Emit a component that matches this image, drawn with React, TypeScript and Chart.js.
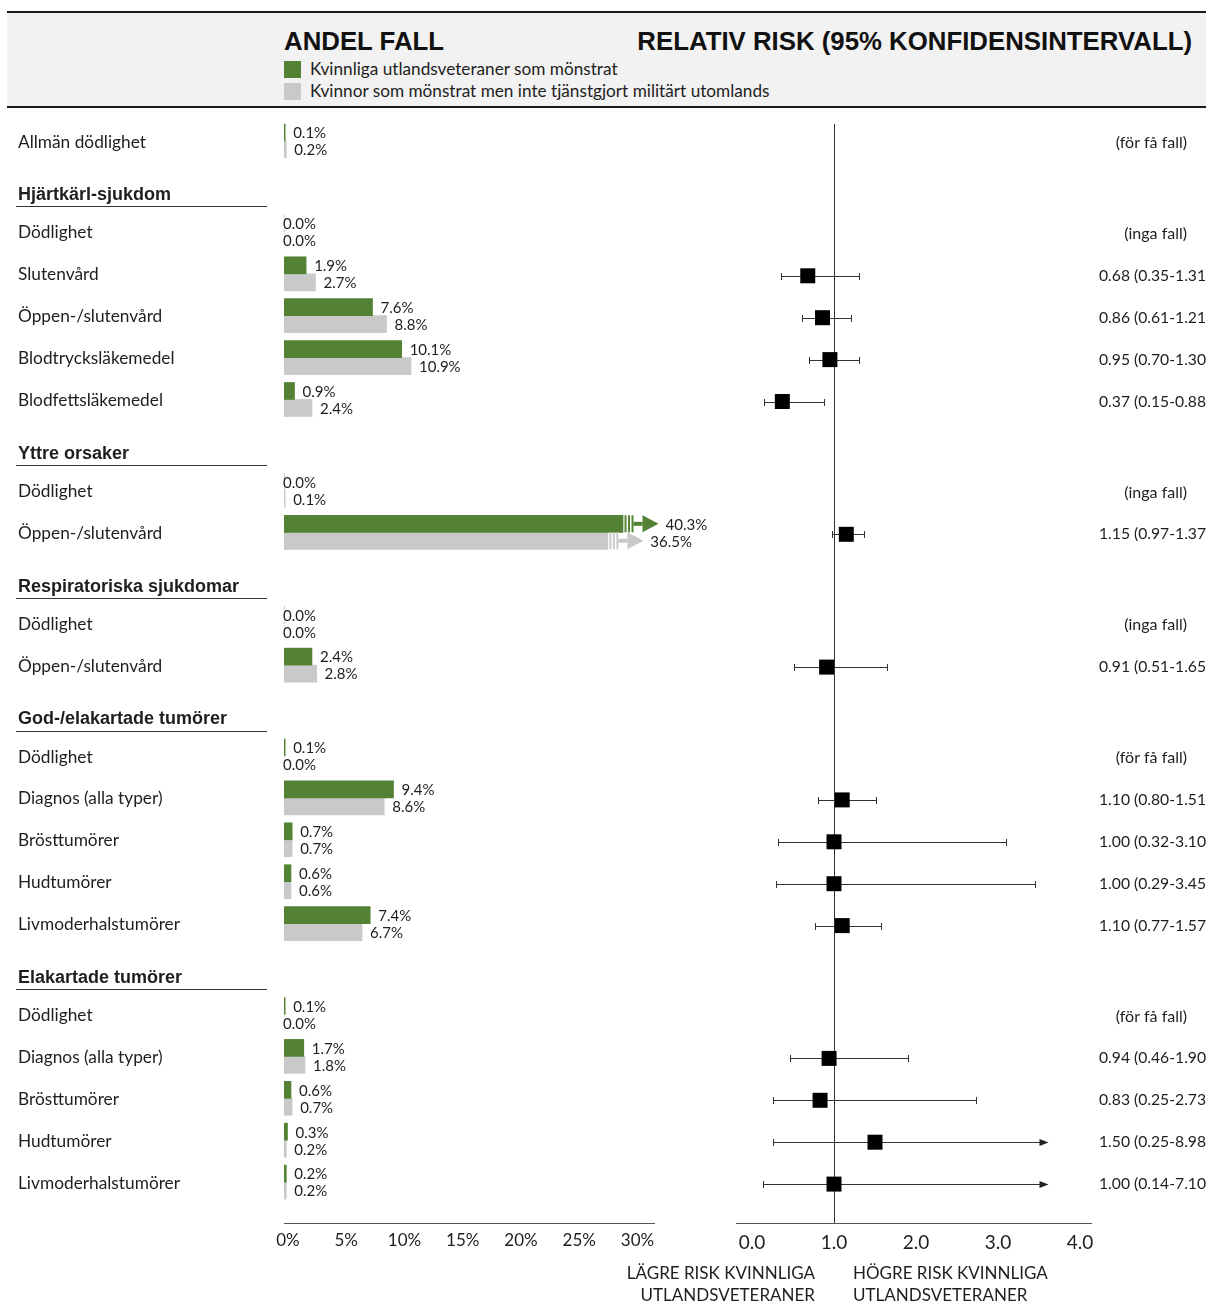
import React, { useEffect, useRef } from "react";
import { Chart, registerables } from "chart.js";

Chart.register(...registerables);

// ---------------- data ----------------
const leftTitle = "ANDEL FALL";
const rightTitle = "RELATIV RISK (95% KONFIDENSINTERVALL)";
const legendLabels = [
  "Kvinnliga utlandsveteraner som mönstrat",
  "Kvinnor som mönstrat men inte tjänstgjort militärt utomlands",
];
const sectionTitles = [
  "",
  "Hjärtkärl-sjukdom",
  "Yttre orsaker",
  "Respiratoriska sjukdomar",
  "God-/elakartade tumörer",
  "Elakartade tumörer",
];
const rowLabels = [
  "Allmän dödlighet",
  "Dödlighet",
  "Slutenvård",
  "Öppen-/slutenvård",
  "Blodtrycksläkemedel",
  "Blodfettsläkemedel",
  "Dödlighet",
  "Öppen-/slutenvård",
  "Dödlighet",
  "Öppen-/slutenvård",
  "Dödlighet",
  "Diagnos (alla typer)",
  "Brösttumörer",
  "Hudtumörer",
  "Livmoderhalstumörer",
  "Dödlighet",
  "Diagnos (alla typer)",
  "Brösttumörer",
  "Hudtumörer",
  "Livmoderhalstumörer",
];
const rowSection = [0, 1, 1, 1, 1, 1, 2, 2, 3, 3, 4, 4, 4, 4, 4, 5, 5, 5, 5, 5];
const veteranPct = [0.1, 0.0, 1.9, 7.6, 10.1, 0.9, 0.0, 40.3, 0.0, 2.4, 0.1, 9.4, 0.7, 0.6, 7.4, 0.1, 1.7, 0.6, 0.3, 0.2];
const controlPct = [0.2, 0.0, 2.7, 8.8, 10.9, 2.4, 0.1, 36.5, 0.0, 2.8, 0.0, 8.6, 0.7, 0.6, 6.7, 0.0, 1.8, 0.7, 0.2, 0.2];
const rrEstimate = [null, null, 0.68, 0.86, 0.95, 0.37, null, 1.15, null, 0.91, null, 1.1, 1.0, 1.0, 1.1, null, 0.94, 0.83, 1.5, 1.0];
const rrLower = [null, null, 0.35, 0.61, 0.7, 0.15, null, 0.97, null, 0.51, null, 0.8, 0.32, 0.29, 0.77, null, 0.46, 0.25, 0.25, 0.14];
const rrUpper = [null, null, 1.31, 1.21, 1.3, 0.88, null, 1.37, null, 1.65, null, 1.51, 3.1, 3.45, 1.57, null, 1.9, 2.73, 8.98, 7.1];
const rrNote = [
  "(för få fall)", "(inga fall)", null, null, null, null, "(inga fall)", null, "(inga fall)", null,
  "(för få fall)", null, null, null, null, "(för få fall)", null, null, null, null,
];
const pctTickStep = 5;
const rrTickStep = 1;
const lowerRiskText = ["LÄGRE RISK KVINNLIGA", "UTLANDSVETERANER"];
const higherRiskText = ["HÖGRE RISK KVINNLIGA", "UTLANDSVETERANER"];

// ---------------- layout / style ----------------
const W = 1206;
const H = 1311;
const GREEN = "#548235";
const GRAY = "#c9c9c9";
const TEXT = "#1e1e1e";
const BODY_FONT = "Lato, 'Noto Sans', sans-serif";
const BOLD_FONT = "'Liberation Sans', Arial, sans-serif";

const AREA_TOP = 115;
const AREA_BOTTOM = 1223;
const ROW_FIRST = 141;
const ROW_STEP = 41.9;
const SECTION_EXTRA = 49;
const HEADER_ABOVE = 36.5;
const rowPos = rowLabels.map((_, i) => i + (rowSection[i] * SECTION_EXTRA) / ROW_STEP);
const Y_MIN = -(ROW_FIRST - AREA_TOP) / ROW_STEP;
const Y_MAX = Y_MIN + (AREA_BOTTOM - AREA_TOP) / ROW_STEP;

// bar panel (canvas A, page x 0..760)
const A_W = 760;
const A_LEFT = 284;
const A_RIGHT = 654;
const PCT_PX = 11.65;
const PCT_MAX = (A_RIGHT - A_LEFT) / PCT_PX;
const BREAK_SHOW = [29.1, 27.8];

// forest panel (canvas B, page x 600..1206)
const B_X = 600;
const B_W = W - B_X;
const B_LEFT = 736;
const B_RIGHT = 1091;
const RR_ZERO = 752;
const RR_PX = 82;
const RR_ARROW_AT = 3.61;

const makeYScale = () => ({
  type: "linear" as const,
  reverse: true,
  offset: false,
  min: Y_MIN,
  max: Y_MAX,
  display: false,
});

const barsDecor = {
  id: "barsDecor",
  afterDatasetsDraw(chart: any) {
    const ctx = chart.ctx;
    const y = chart.scales.y;
    ctx.save();
    ctx.textBaseline = "middle";
    ctx.textAlign = "left";
    ctx.fillStyle = TEXT;
    ctx.font = `17.3px ${BODY_FONT}`;
    rowLabels.forEach((t, i) => ctx.fillText(t, 18, y.getPixelForValue(rowPos[i]) + 1));
    sectionTitles.forEach((t, s) => {
      if (!t) return;
      const first = rowSection.indexOf(s);
      const py = y.getPixelForValue(rowPos[first] - HEADER_ABOVE / ROW_STEP);
      ctx.font = `bold 18px ${BOLD_FONT}`;
      ctx.fillStyle = TEXT;
      ctx.fillText(t, 18, py);
      ctx.strokeStyle = "#333";
      ctx.lineWidth = 1;
      ctx.beginPath();
      ctx.moveTo(16, Math.round(py + 11) + 0.5);
      ctx.lineTo(267, Math.round(py + 11) + 0.5);
      ctx.stroke();
    });
    const series = [veteranPct, controlPct];
    const colors = [GREEN, GRAY];
    series.forEach((vals, d) => {
      const meta = chart.getDatasetMeta(d);
      vals.forEach((v, i) => {
        const el = meta.data[i];
        if (!el) return;
        const p = el.getProps(["x", "y", "base", "height"], true);
        let labelX = v === 0 ? p.base - 1 : p.x + 8;
        if (v > BREAK_SHOW[d]) {
          const top = p.y - p.height / 2;
          const h = p.height;
          ctx.fillStyle = colors[d];
          let x = p.x + 1.5;
          ctx.fillRect(x, top, 2, h);
          x += 3.5;
          ctx.fillRect(x, top, 2, h);
          x += 3.5;
          ctx.fillRect(x, top, 2, h);
          x += 2;
          ctx.fillRect(x, p.y - 2, 9, 4);
          x += 9;
          ctx.beginPath();
          ctx.moveTo(x, top);
          ctx.lineTo(x + 16, p.y);
          ctx.lineTo(x, top + h);
          ctx.closePath();
          ctx.fill();
          labelX = x + 16 + 7;
        }
        ctx.font = `15px ${BODY_FONT}`;
        ctx.fillStyle = TEXT;
        ctx.fillText(v.toFixed(1) + "%", labelX, p.y + 1);
      });
    });
    ctx.restore();
  },
};

const forestDecor = {
  id: "forestDecor",
  beforeDatasetsDraw(chart: any) {
    const { ctx, chartArea } = chart;
    const x = chart.scales.x;
    const y = chart.scales.y;
    ctx.save();
    ctx.strokeStyle = "#333";
    ctx.fillStyle = "#222";
    ctx.lineWidth = 1;
    const x1 = Math.round(x.getPixelForValue(1)) + 0.5;
    ctx.beginPath();
    ctx.moveTo(x1, chartArea.top + 9);
    ctx.lineTo(x1, chartArea.bottom);
    ctx.stroke();
    rrEstimate.forEach((e, i) => {
      if (e == null) return;
      const py = Math.round(y.getPixelForValue(rowPos[i]) + 2) + 0.5;
      const lo = Math.round(x.getPixelForValue(rrLower[i] as number)) + 0.5;
      const capped = (rrUpper[i] as number) > RR_ARROW_AT;
      const hi = Math.round(x.getPixelForValue(capped ? RR_ARROW_AT : (rrUpper[i] as number))) + 0.5;
      ctx.beginPath();
      ctx.moveTo(lo, py);
      ctx.lineTo(capped ? hi - 8 : hi, py);
      ctx.moveTo(lo, py - 3.5);
      ctx.lineTo(lo, py + 3.5);
      if (!capped) {
        ctx.moveTo(hi, py - 3.5);
        ctx.lineTo(hi, py + 3.5);
      }
      ctx.stroke();
      if (capped) {
        ctx.beginPath();
        ctx.moveTo(hi - 9, py - 3.5);
        ctx.lineTo(hi, py);
        ctx.lineTo(hi - 9, py + 3.5);
        ctx.closePath();
        ctx.fill();
      }
    });
    ctx.restore();
  },
  afterDraw(chart: any) {
    const { ctx } = chart;
    const x = chart.scales.x;
    const y = chart.scales.y;
    ctx.save();
    ctx.fillStyle = TEXT;
    ctx.textBaseline = "middle";
    rowLabels.forEach((_, i) => {
      const py = y.getPixelForValue(rowPos[i]) + 2;
      if (rrNote[i]) {
        ctx.font = `16px ${BODY_FONT}`;
        ctx.textAlign = "right";
        ctx.fillText(rrNote[i], chart.width - 19, py);
      } else if (rrEstimate[i] != null) {
        ctx.font = `15.7px ${BODY_FONT}`;
        ctx.textAlign = "left";
        const t = `${(rrEstimate[i] as number).toFixed(2)} (${(rrLower[i] as number).toFixed(2)}-${(rrUpper[i] as number).toFixed(2)})`;
        ctx.fillText(t, chart.width - 107, py);
      }
    });
    ctx.font = `17px ${BODY_FONT}`;
    const ref = x.getPixelForValue(1);
    ctx.textAlign = "right";
    lowerRiskText.forEach((t, k) => ctx.fillText(t, ref - 19, 1274 + k * 22));
    ctx.textAlign = "left";
    higherRiskText.forEach((t, k) => ctx.fillText(t, ref + 19, 1274 + k * 22));
    ctx.restore();
  },
};

function makeBarConfig(): any {
  return {
    type: "bar",
    data: {
      datasets: [
        {
          label: legendLabels[0],
          data: veteranPct.map((v, i) => ({ x: Math.min(v, BREAK_SHOW[0]), y: rowPos[i] })),
          backgroundColor: GREEN,
          barThickness: 17,
          borderWidth: 0,
        },
        {
          label: legendLabels[1],
          data: controlPct.map((v, i) => ({ x: Math.min(v, BREAK_SHOW[1]), y: rowPos[i] })),
          backgroundColor: GRAY,
          barThickness: 17,
          borderWidth: 0,
        },
      ],
    },
    options: {
      indexAxis: "y",
      animation: false,
      responsive: false,
      events: [],
      layout: { padding: { left: A_LEFT, right: A_W - A_RIGHT, top: AREA_TOP, bottom: 0 } },
      scales: {
        y: makeYScale(),
        x: {
          type: "linear",
          position: "bottom",
          min: 0,
          max: PCT_MAX,
          grid: { display: false, drawTicks: false },
          border: { display: true, color: "#555", width: 1 },
          ticks: {
            stepSize: pctTickStep,
            includeBounds: false,
            padding: 7,
            labelOffset: 4,
            color: TEXT,
            font: { family: BODY_FONT, size: 17 },
            callback: (v: number) => `${v}%`,
          },
          afterFit: (s: any) => {
            s.height = H - AREA_BOTTOM;
          },
        },
      },
      plugins: { legend: { display: false }, tooltip: { enabled: false } },
    },
    plugins: [barsDecor],
  };
}

function makeForestConfig(): any {
  const pts = rrEstimate
    .map((e, i) => (e == null ? null : { x: e, y: rowPos[i] + 2 / ROW_STEP }))
    .filter((p) => p !== null);
  return {
    type: "scatter",
    data: {
      datasets: [
        {
          label: rightTitle,
          data: pts,
          pointStyle: "rect",
          pointRadius: 10.6,
          backgroundColor: "#000",
          borderWidth: 0,
          showLine: false,
        },
      ],
    },
    options: {
      animation: false,
      responsive: false,
      events: [],
      layout: { padding: { left: B_LEFT - B_X, right: W - B_RIGHT, top: AREA_TOP, bottom: 0 } },
      scales: {
        y: makeYScale(),
        x: {
          type: "linear",
          position: "bottom",
          min: (B_LEFT - RR_ZERO) / RR_PX,
          max: (B_RIGHT - RR_ZERO) / RR_PX,
          grid: { display: false, drawTicks: false },
          border: { display: true, color: "#555", width: 1 },
          ticks: {
            stepSize: rrTickStep,
            includeBounds: false,
            padding: 8,
            color: TEXT,
            font: { family: BODY_FONT, size: 19 },
            callback: (v: number) => Number(v).toFixed(1),
          },
          afterFit: (s: any) => {
            s.height = H - AREA_BOTTOM;
          },
        },
      },
      plugins: { legend: { display: false }, tooltip: { enabled: false } },
    },
    plugins: [forestDecor],
  };
}

export default function App() {
  const aRef = useRef<HTMLCanvasElement | null>(null);
  const bRef = useRef<HTMLCanvasElement | null>(null);

  useEffect(() => {
    const a = new Chart(aRef.current as HTMLCanvasElement, makeBarConfig());
    const b = new Chart(bRef.current as HTMLCanvasElement, makeForestConfig());
    return () => {
      a.destroy();
      b.destroy();
    };
  }, []);

  const abs = (o: any) => ({ position: "absolute" as const, ...o });

  return (
    <div style={abs({ left: 0, top: 0, width: W, height: H, background: "#fff", overflow: "hidden" })}>
      <div
        style={abs({
          left: 7,
          top: 11,
          width: W - 7,
          height: 97,
          boxSizing: "border-box",
          background: "#f2f2f2",
          borderTop: "2px solid #1a1a1a",
          borderBottom: "2px solid #1a1a1a",
        })}
      />
      <div
        style={abs({
          left: 284,
          top: 27,
          lineHeight: "30px",
          font: `bold 25.8px ${BOLD_FONT}`,
          color: "#111",
          whiteSpace: "nowrap",
        })}
      >
        {leftTitle}
      </div>
      <div
        style={abs({
          right: W - 1192,
          top: 27,
          lineHeight: "30px",
          font: `bold 25.8px ${BOLD_FONT}`,
          color: "#111",
          whiteSpace: "nowrap",
        })}
      >
        {rightTitle}
      </div>
      {legendLabels.map((t, k) => (
        <React.Fragment key={t}>
          <div style={abs({ left: 284, top: 61 + k * 22, width: 17, height: 17, background: k === 0 ? GREEN : GRAY })} />
          <div
            style={abs({
              left: 310,
              top: 58 + k * 22,
              lineHeight: "22px",
              font: `17.2px ${BODY_FONT}`,
              color: TEXT,
              whiteSpace: "nowrap",
            })}
          >
            {t}
          </div>
        </React.Fragment>
      ))}
      <canvas ref={aRef} width={A_W} height={H} style={abs({ left: 0, top: 0, width: A_W, height: H })} />
      <canvas ref={bRef} width={B_W} height={H} style={abs({ left: B_X, top: 0, width: B_W, height: H })} />
    </div>
  );
}
